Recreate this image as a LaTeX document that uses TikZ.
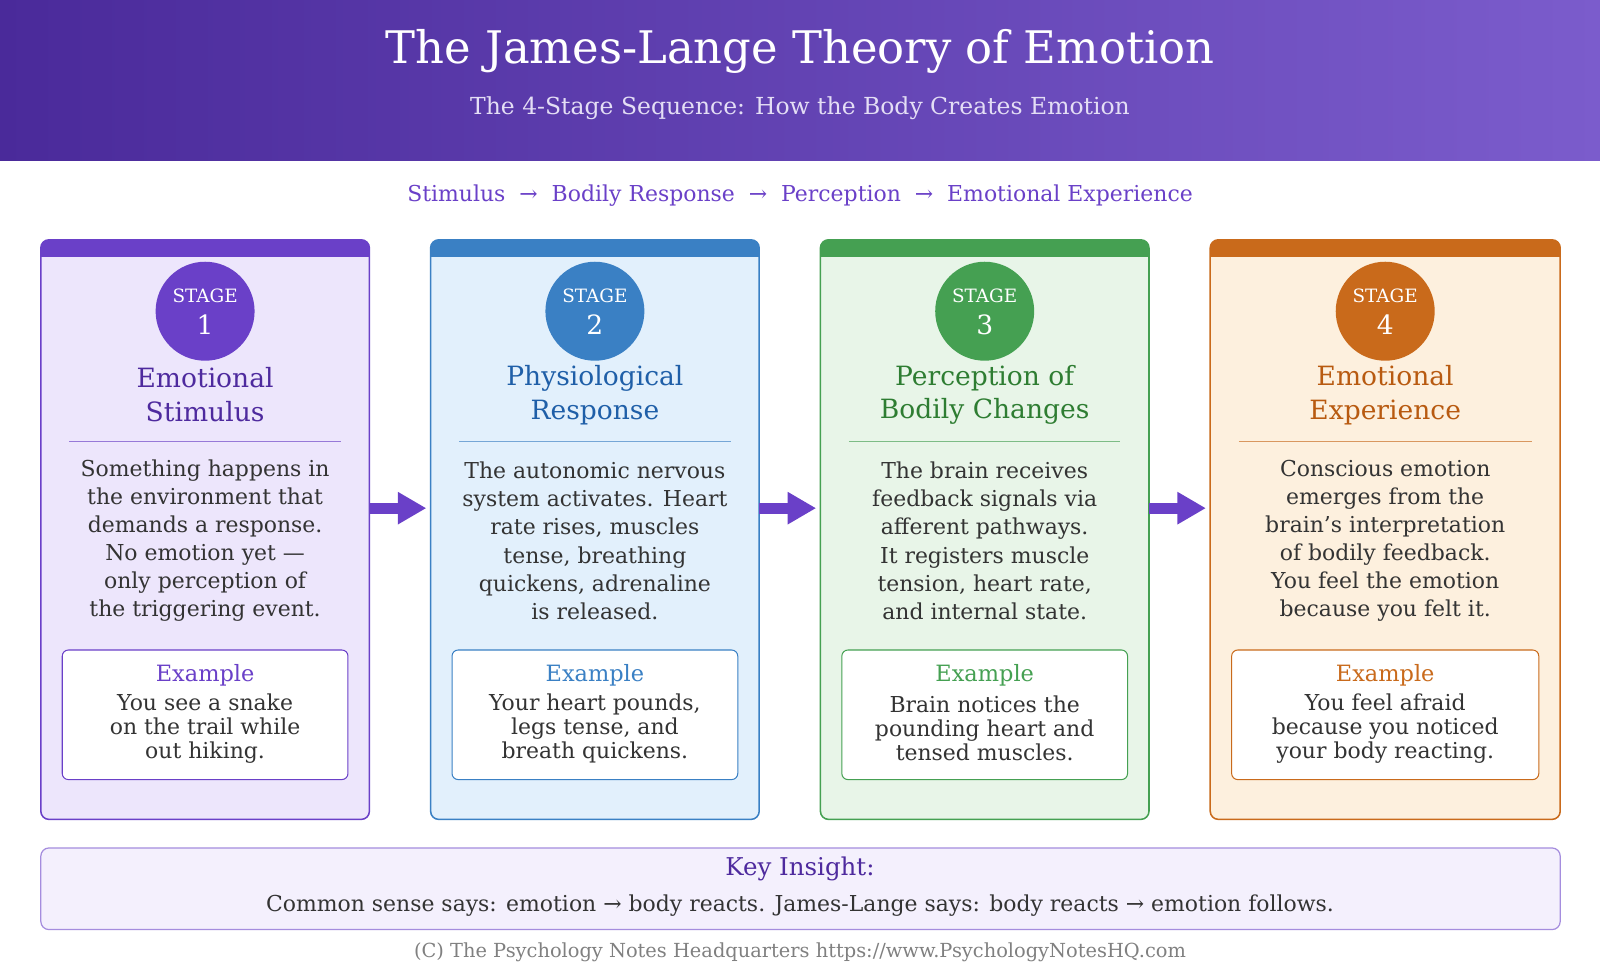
\documentclass[tikz,border=0pt]{standalone}
\usepackage{fontspec}
\setmainfont{DejaVu Serif}
\usetikzlibrary{arrows.meta}
\definecolor{hdA}{HTML}{4A2A9A}\definecolor{hdB}{HTML}{7B5CCC}
\definecolor{pM}{HTML}{6A40C8}\definecolor{pF}{HTML}{EDE6FC}\definecolor{pD}{HTML}{4E2A9E}
\definecolor{bM}{HTML}{3A80C4}\definecolor{bF}{HTML}{E2F0FC}\definecolor{bD}{HTML}{1F5FA8}
\definecolor{gM}{HTML}{45A052}\definecolor{gF}{HTML}{E8F5E8}\definecolor{gD}{HTML}{2E7D32}
\definecolor{oM}{HTML}{C96A1B}\definecolor{oF}{HTML}{FDF0DE}\definecolor{oD}{HTML}{B85A10}
\definecolor{txt}{HTML}{333333}
\newcommand\fs[2]{\fontsize{#1}{#2}\selectfont}
\tikzset{x=1pt,y=-1pt,
 body/.style={align=center,text=txt,font=\fs{21.5}{27.5}},
 ex/.style={align=center,text=txt,font=\fs{21.5}{23.5}},
 flow/.style={line width=11pt,pM,-{Triangle[length=28pt,width=30pt]}}}
\newcommand\card[9]{%
 \pgfmathsetmacro\cx{#2+\cw/2}
 \node[draw=none,minimum width=\cw pt,minimum height=568pt,inner sep=0] (#1) at (\cx,519) {};
 \begin{scope}
 \clip[rounded corners=8pt] (#2,235) rectangle ++(\cw,568);
 \fill[#4] (#2,235) rectangle ++(\cw,568);
 \fill[#3] (#2,235) rectangle ++(\cw,17);
 \end{scope}
 \draw[#3,line width=1.5pt,rounded corners=8pt] (#2,235) rectangle ++(\cw,568);
 \node[circle,fill=#3,minimum size=97pt,inner sep=0] (#1c) at (\cx,305) {};
 \node[white,font=\fs{18}{20}] (#1s) at (\cx,290) {STAGE};
 \node[white,font=\fs{26}{28}] (#1n) at (\cx,318) {#9};
 \node[#5,align=center,font=\fs{26}{33}] (#1t) at (\cx,387) {#6};
 \draw[#3!70,line width=1pt] (#2+28,433) -- (#2+\cw-28,433);
 \node[body] (#1b) at (\cx,530) {#7};
 \draw[#3,fill=white,line width=1pt,rounded corners=6pt] (#2+21,637) rectangle (#2+\cw-21,764);
 \node[#3,font=\fs{22}{24}] (#1e) at (\cx,662) {Example};
 \node[ex] (#1x) at (\cx,714) {#8};
}
\begin{document}
\begin{tikzpicture}
\useasboundingbox (0,0) rectangle (1568,960);
\fill[white] (0,0) rectangle (1568,960);
\shade[left color=hdA,right color=hdB] (0,0) rectangle (1568,157);
\node[white,font=\fs{44}{48}] (title) at (784,50) {The James-Lange Theory of Emotion};
\node[white!80!hdB,font=\fs{23}{26}] (sub) at (784,106) {The 4-Stage Sequence: How the Body Creates Emotion};
\node[pM,font=\fs{21.5}{24}] (seq) at (784,192) {Stimulus \ → \ Bodily Response \ → \ Perception \ → \ Emotional Experience};
\def\cw{322}
\card{c1}{40}{pM}{pF}{pD}{Emotional\\Stimulus}{Something happens in\\the environment that\\demands a response.\\No emotion yet ---\\only perception of\\the triggering event.}{You see a snake\\on the trail while\\out hiking.}{1}
\card{c2}{422}{bM}{bF}{bD}{Physiological\\Response}{The autonomic nervous\\system activates. Heart\\rate rises, muscles\\tense, breathing\\quickens, adrenaline\\is released.}{Your heart pounds,\\legs tense, and\\breath quickens.}{2}
\card{c3}{804}{gM}{gF}{gD}{Perception of\\Bodily Changes}{The brain receives\\feedback signals via\\afferent pathways.\\It registers muscle\\tension, heart rate,\\and internal state.}{Brain notices the\\pounding heart and\\tensed muscles.}{3}
\def\cw{343}
\card{c4}{1186}{oM}{oF}{oD}{Emotional\\Experience}{Conscious emotion\\emerges from the\\brain's interpretation\\of bodily feedback.\\You feel the emotion\\because you felt it.}{You feel afraid\\because you noticed\\your body reacting.}{4}
\draw[flow] ([yshift=21pt]c1.east) -- ([xshift=-4pt,yshift=21pt]c2.west);
\draw[flow] ([yshift=21pt]c2.east) -- ([xshift=-4pt,yshift=21pt]c3.west);
\draw[flow] ([yshift=21pt]c3.east) -- ([xshift=-4pt,yshift=21pt]c4.west);
\draw[pM!60,fill=pF!60,line width=1.2pt,rounded corners=8pt] (40,831) rectangle (1529,911);
\node[pD,font=\fs{24}{26}] (ki) at (784,852) {Key Insight:};
\node[txt,font=\fs{21.5}{24}] (kl) at (784,887) {Common sense says: emotion → body reacts. James-Lange says: body reacts → emotion follows.};
\node[gray,font=\fs{19}{20}] (ft) at (784,933) {(C) The Psychology Notes Headquarters https://www.PsychologyNotesHQ.com};
\end{tikzpicture}
\end{document}
